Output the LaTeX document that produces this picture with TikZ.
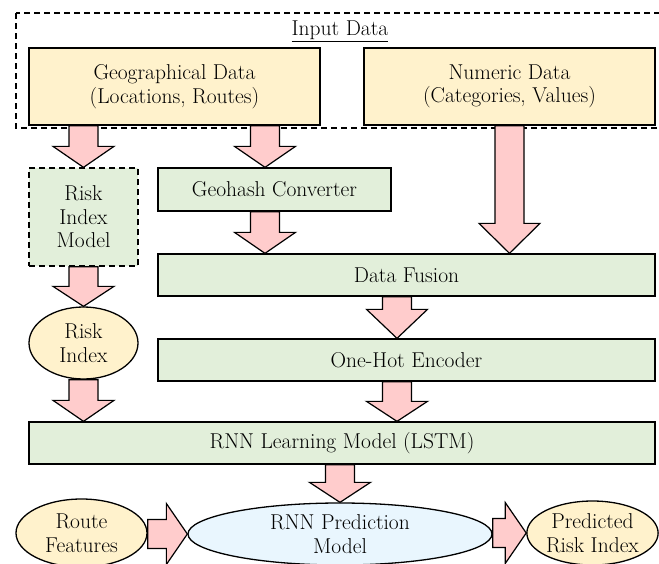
\documentclass[tikz,border=0pt]{standalone}
\usetikzlibrary{calc,shapes.geometric}

\definecolor{inyellow}{HTML}{FFF2CC}
\definecolor{procgreen}{HTML}{E2EFDA}
\definecolor{arrowpink}{HTML}{FFCCCC}
\definecolor{modelblue}{HTML}{E9F6FE}

% vertical block arrow: from #1 down to #2 (x taken from #2), head length #3
\newcommand\fatv[3]{\path[fatarrow] let \p1=(#1), \p2=(#2) in
  (\x2-14.5pt,\y1) -- (\x2+14.5pt,\y1) -- (\x2+14.5pt,\y2+#3) -- (\x2+30.5pt,\y2+#3)
  -- (\x2,\y2) -- (\x2-30.5pt,\y2+#3) -- (\x2-14.5pt,\y2+#3) -- cycle;}
% horizontal block arrow: from #1 right to #2 (y taken from #2), head length #3
\newcommand\fath[3]{\path[fatarrow] let \p1=(#1), \p2=(#2) in
  (\x1,\y2-14.5pt) -- (\x2-#3,\y2-14.5pt) -- (\x2-#3,\y2-30.5pt)
  -- (\x2,\y2) -- (\x2-#3,\y2+30.5pt) -- (\x2-#3,\y2+14.5pt) -- (\x1,\y2+14.5pt) -- cycle;}

\tikzset{
  every node/.style={font=\fontsize{21.5}{23.5}\selectfont, inner sep=0pt},
  databox/.style={draw, line width=1.3pt, fill=inyellow, align=center},
  procbox/.style={draw, line width=1.3pt, fill=procgreen, align=center},
  dashbox/.style={draw, line width=1.3pt, fill=procgreen, dash pattern=on 6pt off 4pt, align=center},
  yellowell/.style={draw, line width=1.3pt, ellipse, fill=inyellow, align=center},
  blueell/.style={draw, line width=1.3pt, ellipse, fill=modelblue, align=center},
  fatarrow/.style={draw, line width=1.2pt, fill=arrowpink, line join=miter},
}

\begin{document}
\begin{tikzpicture}[x=1pt,y=-1pt]
\useasboundingbox (0,0) rectangle (659,563);

% input data group
\draw[line width=1.3pt, dash pattern=on 6pt off 4pt] (16,13) rectangle (663,128);
\node (intitle) at (340,31) {\underline{Input Data}};

\node[databox, minimum width=291pt, minimum height=77pt] (geo) at (174.5,86.5)
  {Geographical Data\\(Locations, Routes)};
\node[databox, minimum width=291pt, minimum height=77pt] (num) at (509.5,86.5)
  {Numeric Data\\(Categories, Values)};

\node[dashbox, minimum width=109pt, minimum height=98pt] (riskmodel) at (83.5,217)
  {Risk\\Index\\Model};
\node[procbox, minimum width=233pt, minimum height=43pt] (geohash) at (274.5,189.5)
  {Geohash Converter};
\node[procbox, minimum width=497pt, minimum height=42pt] (fusion) at (406.5,275)
  {Data Fusion};
\node[procbox, minimum width=497pt, minimum height=42pt] (onehot) at (406.5,360)
  {One-Hot Encoder};
\node[yellowell, minimum width=109pt, minimum height=72pt] (riskidx) at (83.5,343)
  {Risk\\Index};
\node[procbox, minimum width=626pt, minimum height=42pt] (rnn) at (342,443)
  {RNN Learning Model (LSTM)};

\node[yellowell, minimum width=131pt, minimum height=68pt] (route) at (81.5,533)
  {Route\\Features};
\node[blueell, minimum width=304pt, minimum height=62pt] (pred) at (340,534)
  {RNN Prediction\\Model};
\node[yellowell, minimum width=131pt, minimum height=64pt] (predicted) at (592.5,533)
  {Predicted\\Risk Index};

% block arrows
\fatv{geo.south}{riskmodel.north}{21pt}
\fatv{geo.south}{[xshift=-9.5pt]geohash.north}{21pt}
\fatv{num.south}{fusion.north -| num.south}{30pt}
\fatv{riskmodel.south}{riskidx.north}{20pt}
\fatv{geohash.south}{[xshift=-9.5pt]geohash.south |- fusion.north}{21pt}
\fatv{fusion.south}{[xshift=-9.5pt]onehot.north}{29pt}
\fatv{riskidx.south}{rnn.north -| riskidx.south}{21pt}
\fatv{onehot.south}{[xshift=-9.5pt]onehot.south |- rnn.north}{20pt}
\fatv{rnn.south}{pred.north}{20pt}
\fath{route.east}{pred.west}{21pt}
\fath{pred.east}{predicted.west}{21pt}
\end{tikzpicture}
\end{document}
